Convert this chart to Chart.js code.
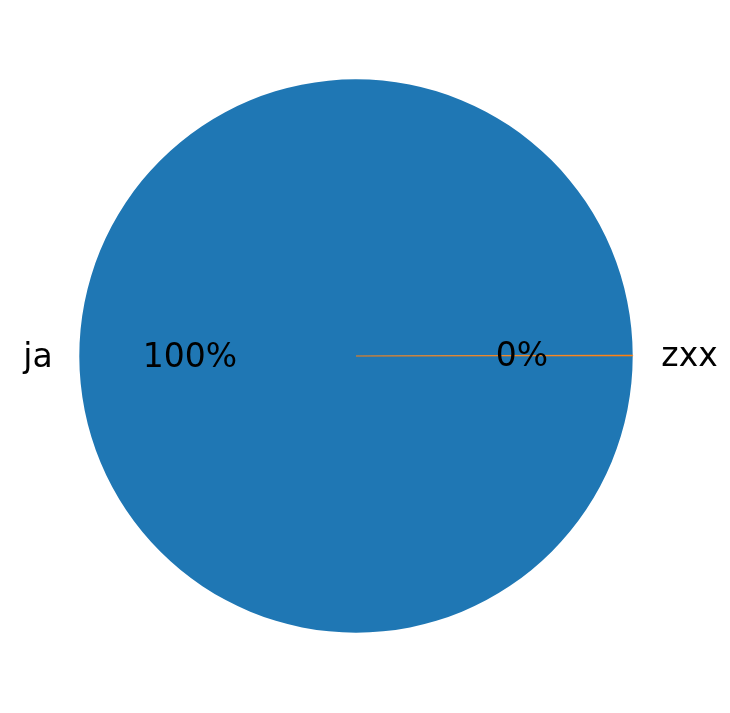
<!DOCTYPE html>
<html>
<head>
<meta charset="utf-8">
<script src="https://cdn.jsdelivr.net/npm/chart.js@4"></script>
<style>
html,body{margin:0;padding:0;background:#fff;}
canvas{display:block;}
</style>
</head>
<body>
<canvas id="c" width="730" height="713"></canvas>
<script>
const categories = ["ja", "zxx"];
const values = [1800, 1];
const colors = ["#1f77b4", "#ff7f0e"];

const FONT = '33px "DejaVu Sans"';

const labelPlugin = {
  id: 'pieLabels',
  afterDatasetsDraw(chart) {
    const ctx = chart.ctx;
    const meta = chart.getDatasetMeta(0);
    const total = values.reduce((a, b) => a + b, 0);
    ctx.save();
    ctx.font = FONT;
    ctx.fillStyle = '#000';
    ctx.textBaseline = 'middle';
    meta.data.forEach((arc, i) => {
      const p = arc.getProps(['x', 'y', 'startAngle', 'endAngle', 'outerRadius'], true);
      const mid = (p.startAngle + p.endAngle) / 2;
      const cx = Math.cos(mid), cy = Math.sin(mid);
      const lx = p.x + cx * p.outerRadius * 1.1 + 1;
      const ly = p.y + cy * p.outerRadius * 1.1 + 2;
      ctx.textAlign = cx < 0 ? 'right' : 'left';
      ctx.fillText(categories[i], lx, ly);
      const px = p.x + cx * p.outerRadius * 0.6;
      const py = p.y + cy * p.outerRadius * 0.6 + 2;
      ctx.textAlign = 'center';
      ctx.fillText(Math.round(values[i] / total * 100) + '%', px, py);
    });
    ctx.restore();
  }
};

new Chart(document.getElementById('c'), {
  type: 'pie',
  data: {
    labels: categories,
    datasets: [{
      data: values,
      backgroundColor: colors,
      borderColor: colors,
      borderWidth: [0, 0.6],
      hoverOffset: 0
    }]
  },
  options: {
    responsive: false,
    animation: false,
    devicePixelRatio: 1,
    rotation: 90,
    layout: { padding: { left: 79, right: 97, top: 79, bottom: 80 } },
    plugins: {
      legend: { display: false },
      tooltip: { enabled: false }
    }
  },
  plugins: [labelPlugin]
});
</script>
</body>
</html>
